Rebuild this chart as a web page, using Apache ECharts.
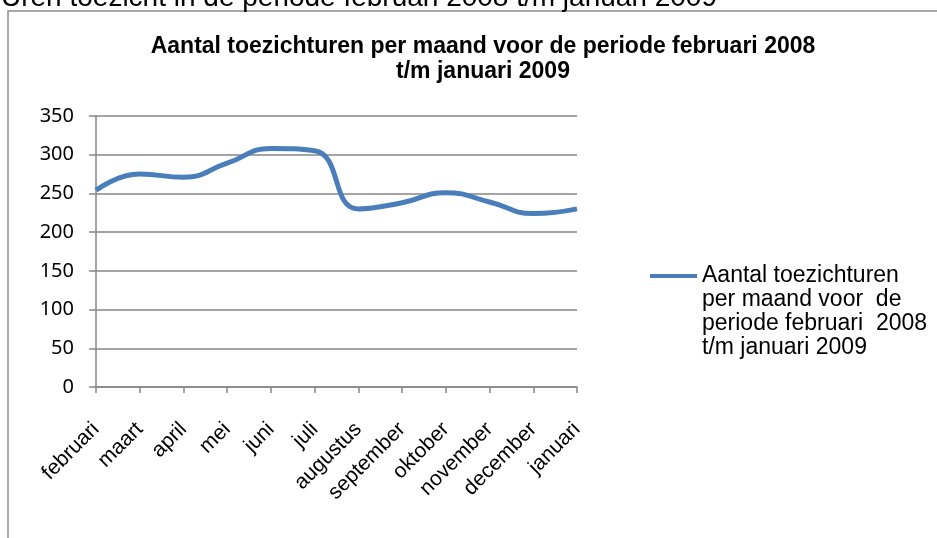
<!DOCTYPE html>
<html>
<head>
<meta charset="utf-8">
<script src="https://cdn.jsdelivr.net/npm/echarts@6/dist/echarts.min.js"></script>
<style>
  html, body { margin: 0; padding: 0; background: #fff; }
  #chart { width: 937px; height: 538px; }
</style>
</head>
<body>
<div id="chart"></div>
<script>
const months = ['februari', 'maart', 'april', 'mei', 'juni', 'juli', 'augustus',
  'september', 'oktober', 'november', 'december', 'januari'];
const uren = [254, 275, 271, 289, 308, 305, 230, 238, 251, 239, 224, 230];
const seriesName = 'Aantal toezichturen\nper maand voor  de\nperiode februari  2008\nt/m januari 2009';
const chartTitle = 'Aantal toezichturen per maand voor de periode februari 2008\nt/m januari 2009';
const caption = 'Uren toezicht in de periode februari 2008 t/m januari 2009';

const chart = echarts.init(document.getElementById('chart'));

const option = {
  animation: false,
  graphic: [
    {
      type: 'rect',
      shape: { x: 8, y: 11, width: 1000, height: 600 },
      style: { fill: 'none', stroke: '#8c8c8c', lineWidth: 1.5 }
    },
    {
      type: 'text',
      style: {
        text: caption, x: 1, y: -2,
        font: '28px "Liberation Sans", Arial, sans-serif',
        fill: '#000', textAlign: 'left', textVerticalAlign: 'middle'
      }
    }
  ],
  title: {
    text: chartTitle,
    left: 478,
    top: 29,
    textAlign: 'center',
    textStyle: {
      fontFamily: '"Liberation Sans", Arial, sans-serif',
      fontSize: 23,
      fontWeight: 'bold',
      color: '#000',
      lineHeight: 25
    }
  },
  legend: {
    data: [seriesName],
    orient: 'vertical',
    left: 650,
    top: 192,
    padding: 0,
    icon: 'rect',
    itemWidth: 47,
    itemHeight: 4,
    formatter: name => '\n\n\n' + name,
    textStyle: {
      fontFamily: '"Liberation Sans", Arial, sans-serif',
      fontSize: 23,
      color: '#000',
      lineHeight: 24
    }
  },
  grid: { left: 96, right: 360, top: 116, bottom: 151, containLabel: false },
  xAxis: {
    type: 'category',
    data: months,
    boundaryGap: false,
    axisLine: { lineStyle: { color: '#868686', width: 1.5 } },
    axisTick: { show: true, length: 6, lineStyle: { color: '#868686', width: 1.5 } },
    axisLabel: {
      rotate: 45,
      margin: 39,
      interval: 0,
      color: '#000',
      fontFamily: '"Liberation Sans", Arial, sans-serif',
      fontSize: 21
    }
  },
  yAxis: {
    type: 'value',
    min: 0,
    max: 350,
    interval: 50,
    axisLine: { show: true, lineStyle: { color: '#868686', width: 1.5 } },
    axisTick: { show: true, length: 7, lineStyle: { color: '#868686', width: 1.5 } },
    splitLine: { lineStyle: { color: '#868686', width: 1.5 } },
    axisLabel: {
      margin: 22,
      color: '#000',
      fontFamily: '"Noto Sans", sans-serif',
      fontSize: 20
    }
  },
  series: [
    {
      name: seriesName,
      type: 'line',
      data: uren,
      smooth: 0.5,
      symbol: 'none',
      lineStyle: { color: '#4a7ebb', width: 5 },
      itemStyle: { color: '#4a7ebb' }
    }
  ]
};

chart.setOption(option);
</script>
</body>
</html>
